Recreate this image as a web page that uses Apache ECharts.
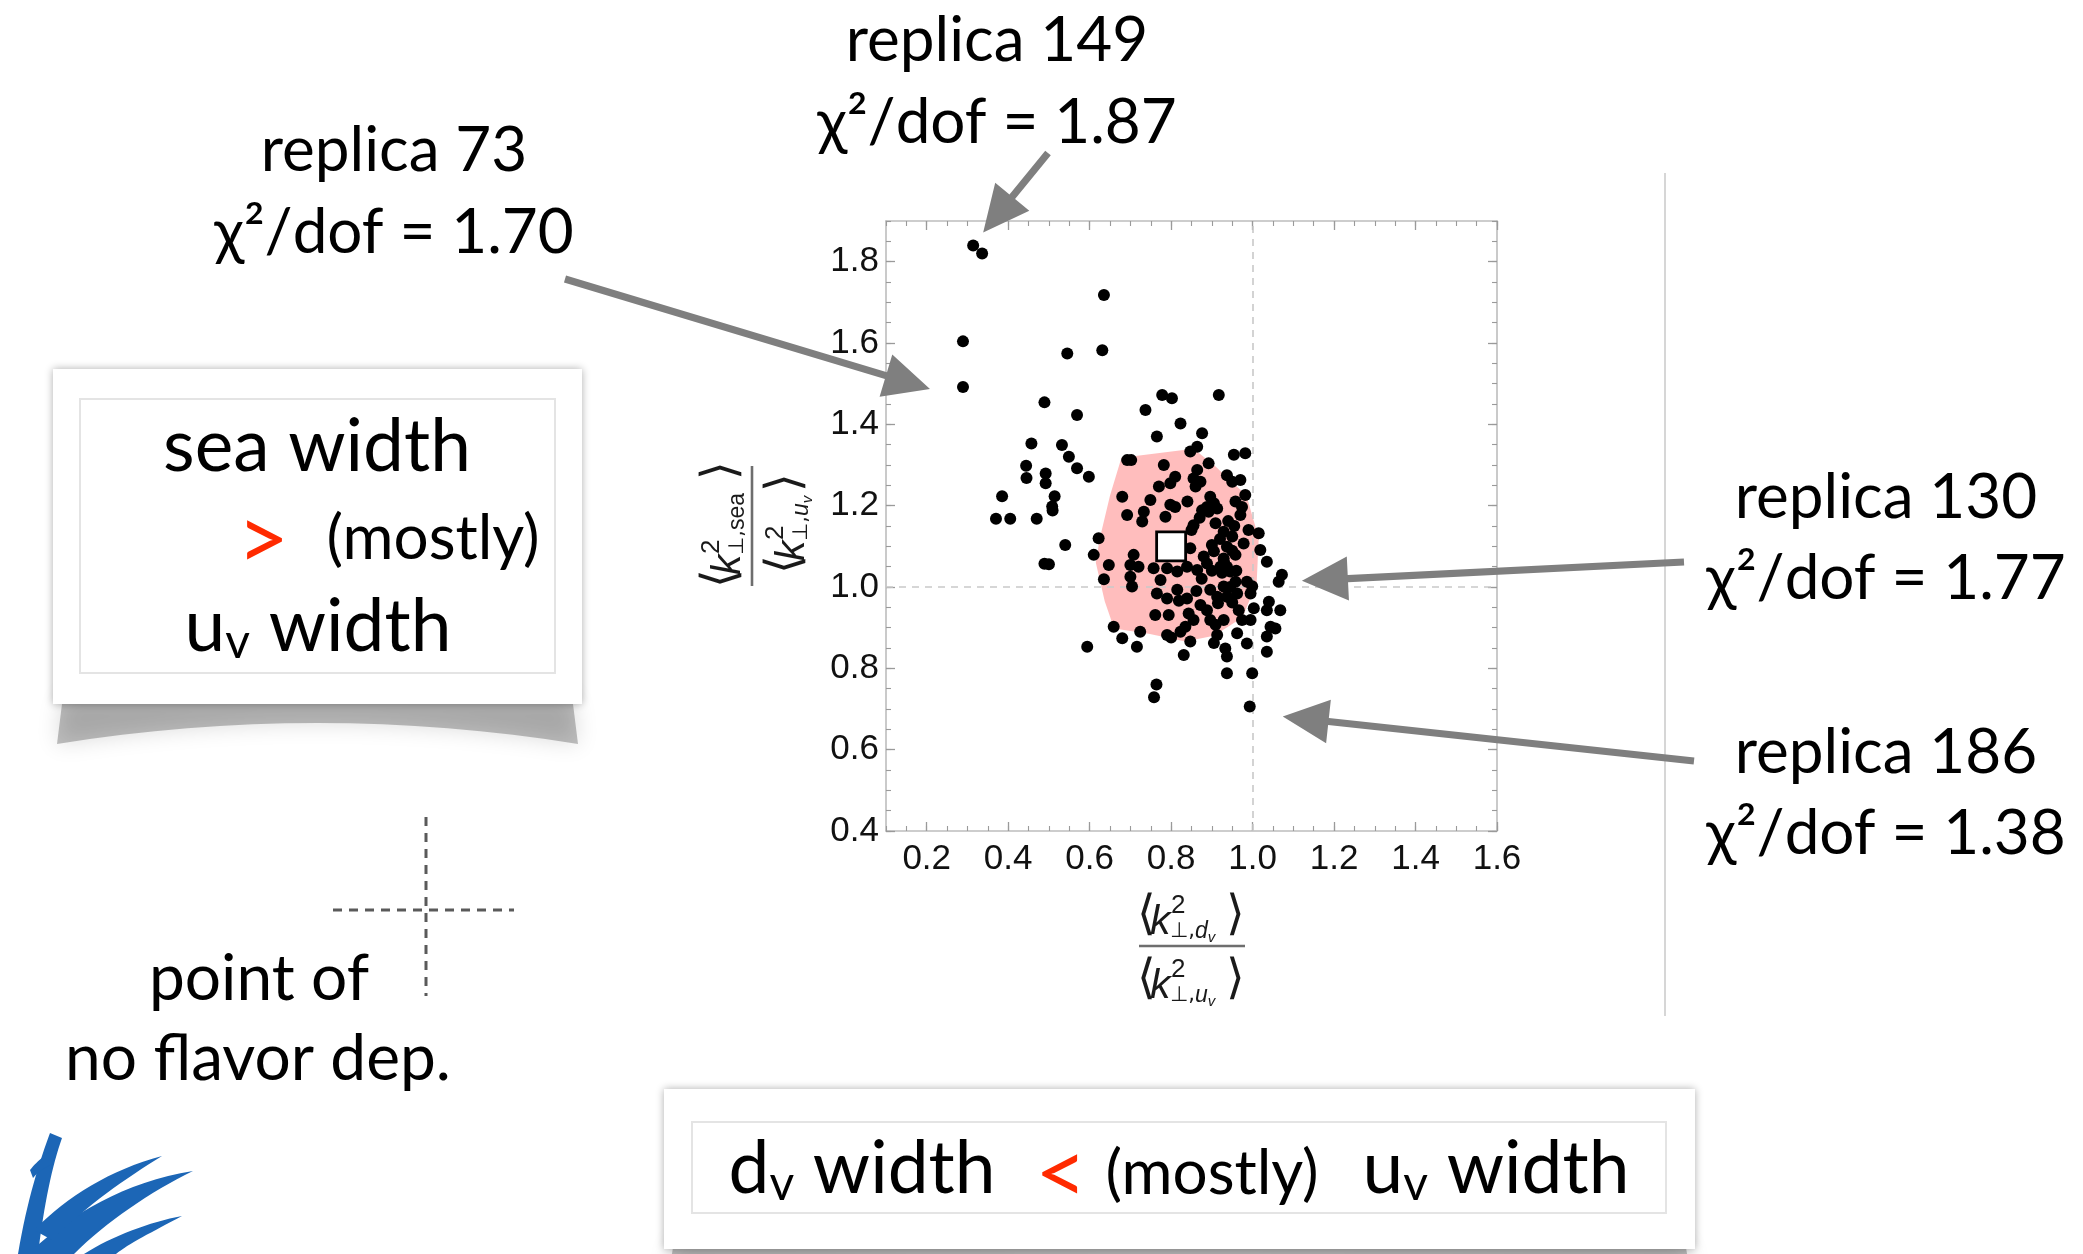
<!DOCTYPE html>
<html>
<head>
<meta charset="utf-8">
<script src="https://cdn.jsdelivr.net/npm/echarts@6/dist/echarts.min.js"></script>
<style>
  html, body { margin: 0; padding: 0; background: #ffffff; }
  #main { width: 2083px; height: 1254px; }
</style>
</head>
<body>
<div id="main"></div>
<script>
// Tick values of the frame
const xTicks = [0.2, 0.4, 0.6, 0.8, 1.0, 1.2, 1.4, 1.6];
const yTicks = [0.4, 0.6, 0.8, 1.0, 1.2, 1.4, 1.6, 1.8];

// Width ratios per fit replica: [<k2 dv>/<k2 uv>, <k2 sea>/<k2 uv>]
const replicaPoints = [
  [0.314, 1.840], [0.336, 1.820], [0.635, 1.718], [0.289, 1.604], [0.631, 1.582],
  [0.545, 1.574], [0.289, 1.492], [0.489, 1.454], [0.457, 1.353], [0.444, 1.298],
  [0.445, 1.268], [0.492, 1.279], [0.492, 1.255], [0.385, 1.223], [0.370, 1.168],
  [0.405, 1.168], [0.470, 1.168], [0.489, 1.057], [0.500, 1.056], [0.764, 0.760],
  [0.758, 0.729], [0.993, 0.706], [0.514, 1.223], [0.508, 1.198], [0.509, 1.188],
  [0.778, 1.472], [0.802, 1.464], [0.917, 1.472], [0.569, 1.423], [0.737, 1.435],
  [0.823, 1.402], [0.876, 1.378], [0.765, 1.370], [0.532, 1.349], [0.864, 1.345],
  [0.847, 1.333], [0.954, 1.325], [0.982, 1.329], [0.692, 1.312], [0.702, 1.312],
  [0.549, 1.320], [0.782, 1.300], [0.892, 1.304], [0.569, 1.292], [0.864, 1.288],
  [0.937, 1.275], [0.598, 1.271], [0.810, 1.271], [0.855, 1.267], [0.950, 1.259],
  [0.970, 1.263], [0.872, 1.259], [0.798, 1.255], [0.770, 1.247], [0.860, 1.247],
  [0.680, 1.222], [0.749, 1.214], [0.896, 1.222], [0.982, 1.226], [0.958, 1.210],
  [0.888, 1.197], [0.905, 1.206], [0.974, 1.197], [0.876, 1.189], [0.892, 1.185],
  [0.913, 1.193], [0.798, 1.202], [0.810, 1.197], [0.733, 1.185], [0.692, 1.177],
  [0.786, 1.173], [0.970, 1.177], [0.729, 1.161], [0.855, 1.152], [0.909, 1.157],
  [0.929, 1.136], [0.950, 1.124], [0.990, 1.140], [1.015, 1.132], [0.622, 1.120],
  [0.900, 1.103], [0.847, 1.095], [0.978, 1.107], [0.540, 1.103], [0.937, 1.099],
  [0.950, 1.089], [0.958, 1.079], [1.019, 1.091], [0.929, 1.070], [0.708, 1.079],
  [0.610, 1.079], [0.880, 1.075], [1.035, 1.062], [0.700, 1.054], [0.720, 1.050],
  [0.647, 1.054], [0.757, 1.046], [0.790, 1.046], [0.839, 1.050], [0.921, 1.050],
  [0.937, 1.050], [0.888, 1.058], [0.864, 1.042], [0.815, 1.038], [0.925, 1.035],
  [0.945, 1.038], [0.635, 1.019], [0.700, 1.025], [0.774, 1.017], [0.958, 1.013],
  [0.986, 1.013], [0.999, 1.002], [1.072, 1.030], [1.064, 1.013], [0.704, 1.001],
  [0.929, 1.001], [0.765, 0.984], [0.815, 0.993], [0.896, 0.993], [0.962, 0.984],
  [0.995, 0.984], [0.790, 0.972], [0.839, 0.972], [0.819, 0.966], [0.913, 0.976],
  [0.937, 0.976], [1.040, 0.964], [0.872, 0.956], [0.888, 0.943], [0.966, 0.943],
  [1.003, 0.948], [1.035, 0.943], [1.068, 0.943], [0.843, 0.935], [0.761, 0.931],
  [0.794, 0.931], [0.896, 0.919], [0.855, 0.919], [0.929, 0.919], [0.974, 0.919],
  [0.995, 0.919], [0.659, 0.902], [0.835, 0.902], [0.909, 0.907], [1.044, 0.902],
  [1.056, 0.898], [0.724, 0.890], [0.823, 0.890], [0.790, 0.882], [0.800, 0.876],
  [0.962, 0.886], [0.913, 0.882], [1.035, 0.878], [0.680, 0.874], [0.847, 0.866],
  [0.905, 0.862], [0.986, 0.861], [0.594, 0.853], [0.716, 0.853], [0.933, 0.849],
  [1.035, 0.841], [0.831, 0.833], [0.937, 0.829], [0.937, 0.788], [0.999, 0.788],
  [0.940, 1.162], [0.955, 1.150], [0.920, 1.118], [0.905, 1.088], [0.930, 1.060],
  [0.960, 1.040], [0.945, 1.000], [0.915, 0.960], [0.950, 0.962], [0.862, 0.990],
  [0.875, 1.020], [0.900, 1.040], [0.850, 1.140], [0.870, 1.170], [0.840, 1.210]
];

// Central value of the replica ensemble
const centralValue = [[0.80, 1.10]];

// Boundary of the 68% region around the central value
const hullVertices = [
  [0.678, 1.318], [0.855, 1.340], [0.905, 1.300], [0.985, 1.225], [1.015, 1.120],
  [1.010, 1.010], [0.975, 0.925], [0.905, 0.880], [0.835, 0.866], [0.745, 0.885],
  [0.660, 0.898], [0.637, 0.965], [0.615, 1.060], [0.625, 1.120], [0.650, 1.225]
];

// Replicas picked out with call-outs
const calloutNames = ['replica 149', 'replica 73', 'replica 130', 'replica 186'];
const calloutChi2 = ['1.87', '1.70', '1.77', '1.38'];
const calloutPoints = [[0.314, 1.840], [0.289, 1.492], [1.072, 1.030], [0.993, 0.706]];

// Call-out layout: label centre x, baselines, arrow tail, tip offset from the point
const calloutLayout = [
  { cx: 997, b1: 64, b2: 146, tail: [1048, 153], tipOff: [10, -13] },
  { cx: 394, b1: 174, b2: 256, tail: [565, 279], tipOff: [-33, 2] },
  { cx: 1886, b1: 521, b2: 602, tail: [1684, 562], tipOff: [20, 6] },
  { cx: 1886, b1: 776, b2: 857, tail: [1694, 761], tipOff: [33, 10] }
];

const FONT = 'Lato';
const MATH = 'Liberation Sans';
const GRID = { left: 886, top: 221, width: 611, height: 610 };
const FRAME = '#bdbdbd';
const TICK = '#9a9a9a';
const RED = '#ff2a00';

const chart = echarts.init(document.getElementById('main'), null, { renderer: 'canvas' });

function majorAxis(pos, ticks, min, max, withLabels, margin) {
  return {
    type: 'value', position: pos, min: min, max: max,
    axisLine: { show: true, onZero: false, lineStyle: { color: FRAME, width: 1.6 } },
    axisTick: { show: true, inside: true, length: 9, customValues: ticks,
      lineStyle: { color: TICK, width: 1.3 } },
    axisLabel: withLabels ? {
      show: true, customValues: ticks, margin: margin,
      formatter: v => v.toFixed(1), fontFamily: MATH, fontSize: 35, color: '#111111',
      showMinLabel: true, showMaxLabel: true
    } : { show: false },
    splitLine: { show: false }
  };
}
function minorAxis(pos, min, max) {
  return {
    type: 'value', position: pos, min: min, max: max, interval: 0.05,
    axisLine: { show: false },
    axisTick: { show: true, inside: true, length: 5, lineStyle: { color: TICK, width: 1.1 } },
    axisLabel: { show: false },
    splitLine: { show: false }
  };
}

chart.setOption({
  animation: false,
  backgroundColor: '#ffffff',
  grid: Object.assign({ outerBoundsMode: 'none', containLabel: false }, GRID),
  xAxis: [
    majorAxis('bottom', xTicks, 0.1, 1.6, true, 11),
    minorAxis('bottom', 0.1, 1.6),
    majorAxis('top', xTicks, 0.1, 1.6, false, 0),
    minorAxis('top', 0.1, 1.6)
  ],
  yAxis: [
    majorAxis('left', yTicks, 0.4, 1.9, true, 7),
    minorAxis('left', 0.4, 1.9),
    majorAxis('right', yTicks, 0.4, 1.9, false, 0),
    minorAxis('right', 0.4, 1.9)
  ],
  series: [
    {
      type: 'custom', name: 'region', z: 1, silent: true,
      data: centralValue,
      renderItem: function (params, api) {
        return {
          type: 'polygon',
          shape: { points: hullVertices.map(p => api.coord(p)) },
          style: { fill: '#ffbdbd' }
        };
      }
    },
    {
      type: 'scatter', name: 'replicas', z: 3, silent: true,
      data: replicaPoints, symbol: 'circle', symbolSize: 12,
      itemStyle: { color: '#000000', opacity: 1 },
      markLine: {
        silent: true, z: 2, symbol: 'none', label: { show: false },
        lineStyle: { color: '#c9c9c9', width: 1.6, type: [7, 6] },
        data: [{ xAxis: 1.0 }, { yAxis: 1.0 }]
      }
    },
    {
      type: 'scatter', name: 'central', z: 4, silent: true,
      data: centralValue, symbol: 'rect', symbolSize: 29,
      itemStyle: { color: '#ffffff', borderColor: '#000000', borderWidth: 2.8, opacity: 1 }
    }
  ]
});

// ---------- slide annotations ----------
function txt(x, base, text, size, style, z) {
  return {
    type: 'text', x: x, y: base - 0.37 * size, z: z || 20, silent: true,
    style: Object.assign({
      text: text, fontFamily: FONT, fontSize: size, fill: '#000000',
      align: 'center', verticalAlign: 'middle'
    }, style || {})
  };
}
const subV = { fontFamily: FONT, fontSize: 48, lineHeight: 48, verticalAlign: 'bottom', fill: '#000000' };
const withSub = { lineHeight: 80, rich: { s: subV } };

// sampled Bezier outlines -> polygon points
function outline(start, segs) {
  const pts = [start];
  let cur = start;
  segs.forEach(s => {
    if (s.length === 1) { pts.push(s[0]); cur = s[0]; return; }
    const n = 16;
    for (let i = 1; i <= n; i++) {
      const t = i / n, u = 1 - t;
      let x, y;
      if (s.length === 2) {
        x = u * u * cur[0] + 2 * u * t * s[0][0] + t * t * s[1][0];
        y = u * u * cur[1] + 2 * u * t * s[0][1] + t * t * s[1][1];
      } else {
        x = u * u * u * cur[0] + 3 * u * u * t * s[0][0] + 3 * u * t * t * s[1][0] + t * t * t * s[2][0];
        y = u * u * u * cur[1] + 3 * u * u * t * s[0][1] + 3 * u * t * t * s[1][1] + t * t * t * s[2][1];
      }
      pts.push([x, y]);
    }
    cur = s[s.length - 1];
  });
  return pts;
}

function arrow(tail, tip) {
  const dx = tip[0] - tail[0], dy = tip[1] - tail[1];
  const len = Math.hypot(dx, dy);
  const ux = dx / len, uy = dy / len, nx = -uy, ny = ux;
  const hl = 46, hw = 22, sw = 3.6;
  const bx = tip[0] - ux * hl, by = tip[1] - uy * hl;
  return {
    type: 'polygon', z: 50, silent: true,
    shape: { points: [
      [tail[0] + nx * sw, tail[1] + ny * sw], [bx + nx * sw, by + ny * sw],
      [bx + nx * hw, by + ny * hw], tip, [bx - nx * hw, by - ny * hw],
      [bx - nx * sw, by - ny * sw], [tail[0] - nx * sw, tail[1] - ny * sw]
    ] },
    style: { fill: '#7f7f7f' }
  };
}

// one <k^2_{perp,q}> term; origin at the fraction bar centre
function kTerm(xL, xR, base, subMain, subSmall, italicSub) {
  const parts = [];
  const mk = (x, y, text, size, extra) => ({
    type: 'text', x: x, y: y, silent: true,
    style: Object.assign({ text: text, fontFamily: MATH, fontSize: size, fill: '#1a1a1a',
      align: 'left', verticalAlign: 'middle' }, extra || {})
  });
  parts.push(mk(xL, base - 21, '\u27E8', 48, { fontFamily: 'DejaVu Sans', fontWeight: 200 }));
  parts.push(mk(xR, base - 21, '\u27E9', 48, { fontFamily: 'DejaVu Sans', fontWeight: 200 }));
  parts.push(mk(xL + 13, base - 15, 'k', 41, { fontStyle: 'italic' }));
  parts.push(mk(xL + 34, base - 32, '2', 26));
  const subText = '\u22A5,{m|' + subMain + '}' + (subSmall ? '{s|' + subSmall + '}' : '');
  parts.push({
    type: 'text', x: xL + 33, y: base - 6, silent: true,
    style: {
      text: subText, fontFamily: 'DejaVu Sans', fontSize: 21, lineHeight: 26, fill: '#1a1a1a',
      align: 'left', verticalAlign: 'middle',
      rich: {
        m: { fontFamily: MATH, fontSize: 23, lineHeight: 26, fontStyle: italicSub ? 'italic' : 'normal', fill: '#1a1a1a' },
        s: { fontFamily: MATH, fontSize: 15, lineHeight: 15, fontStyle: 'italic', verticalAlign: 'bottom', fill: '#1a1a1a' }
      }
    }
  });
  return parts;
}
function fraction(cx, cy, rotation, half, num, den) {
  return {
    type: 'group', x: cx, y: cy, rotation: rotation, z: 20, silent: true,
    children: [
      { type: 'line', shape: { x1: -half, y1: 0, x2: half, y2: 0 },
        style: { stroke: '#6e6e6e', lineWidth: 2.6 } }
    ].concat(num, den)
  };
}

function card(x, y, w, h, inner, curveDepth) {
  const els = [];
  const shadowPts = outline([x + 10, y + h - 8], [
    [[x + w - 10, y + h - 8]],
    [[x + w - 4, y + h + curveDepth]],
    [[x + w / 2, y + h - 2], [x + 4, y + h + curveDepth]]
  ]);
  els.push({
    type: 'polygon', z: 5, silent: true, shape: { points: shadowPts },
    style: { fill: 'rgba(60,60,60,0.32)', shadowBlur: 22, shadowColor: 'rgba(0,0,0,0.45)' }
  });
  els.push({
    type: 'rect', z: 6, silent: true, shape: { x: x, y: y, width: w, height: h },
    style: { fill: '#ffffff', shadowBlur: 8, shadowColor: 'rgba(0,0,0,0.32)' }
  });
  els.push({
    type: 'rect', z: 7, silent: true, shape: inner,
    style: { fill: 'none', stroke: '#e4e4e4', lineWidth: 2 }
  });
  return els;
}

const elements = [];

// separator on the right
elements.push({ type: 'line', z: 5, silent: true, shape: { x1: 1665, y1: 173, x2: 1665, y2: 1016 },
  style: { stroke: '#d6d6d6', lineWidth: 2 } });

// call-out labels and arrows
calloutNames.forEach((name, i) => {
  const L = calloutLayout[i];
  elements.push(txt(L.cx, L.b1, name, 62));
  elements.push(txt(L.cx, L.b2, '\u03C7\u00B2/dof = ' + calloutChi2[i], 62));
  const p = chart.convertToPixel({ seriesIndex: 1 }, calloutPoints[i]);
  elements.push(arrow(L.tail, [p[0] + L.tipOff[0], p[1] + L.tipOff[1]]));
});

// axis titles
elements.push(fraction(1192, 946, 0, 53,
  kTerm(-55, 34, -8, 'd', 'v', true),
  kTerm(-55, 34, 56, 'u', 'v', true)));
elements.push(fraction(752, 526, Math.PI / 2, 60,
  kTerm(-62, 46, -8, 'sea', '', false),
  kTerm(-48, 34, 56, 'u', 'v', true)));

// left note card
card(53, 369, 529, 335, { x: 80, y: 399, width: 475, height: 274 }, 40).forEach(e => elements.push(e));
elements.push(txt(317, 474, 'sea width', 73));
elements.push(txt(263, 574, '>', 90, { fill: RED }));
elements.push(txt(433, 562, '(mostly)', 62));
elements.push(txt(318, 654, 'u{s|v} width', 73, withSub));

// bottom note card
card(664, 1089, 1031, 160, { x: 692, y: 1122, width: 974, height: 91 }, 30).forEach(e => elements.push(e));
elements.push(txt(862, 1196, 'd{s|v} width', 73, withSub));
elements.push(txt(1061, 1208, '<', 90, { fill: RED }));
elements.push(txt(1212, 1197, '(mostly)', 62));
elements.push(txt(1496, 1196, 'u{s|v} width', 73, withSub));

// sketch of the reference cross
elements.push({ type: 'line', z: 10, silent: true, shape: { x1: 426, y1: 817, x2: 426, y2: 996 },
  style: { stroke: '#5a5a5a', lineWidth: 3, lineDash: [9, 7] } });
elements.push({ type: 'line', z: 10, silent: true, shape: { x1: 333, y1: 910, x2: 514, y2: 910 },
  style: { stroke: '#5a5a5a', lineWidth: 3, lineDash: [9, 7] } });
elements.push(txt(259, 1003, 'point of', 64));
elements.push(txt(258, 1083, 'no flavor dep.', 64));

// brush-stroke emblem, bottom left
[
  outline([50, 1133], [[[40, 1160], [27, 1200], [18, 1254]], [[38, 1254]], [[44, 1205], [52, 1166], [62, 1138]]]),
  outline([28, 1254], [[[70, 1214], [125, 1182], [193, 1171]], [[150, 1192], [106, 1222], [74, 1254]]]),
  outline([84, 1254], [[[112, 1236], [150, 1222], [182, 1216]], [[152, 1232], [128, 1244], [116, 1254]]]),
  outline([34, 1230], [[[68, 1196], [110, 1170], [162, 1156]], [[126, 1178], [86, 1206], [52, 1240]]]),
  outline([30, 1170], [[[38, 1160], [48, 1152], [58, 1148]], [[52, 1164]], [[44, 1168], [38, 1172], [33, 1178]]])
].forEach(pts => elements.push({ type: 'polygon', z: 10, silent: true, shape: { points: pts },
  style: { fill: '#1c66b6' } }));

chart.setOption({ graphic: { elements: elements } });
</script>
</body>
</html>
